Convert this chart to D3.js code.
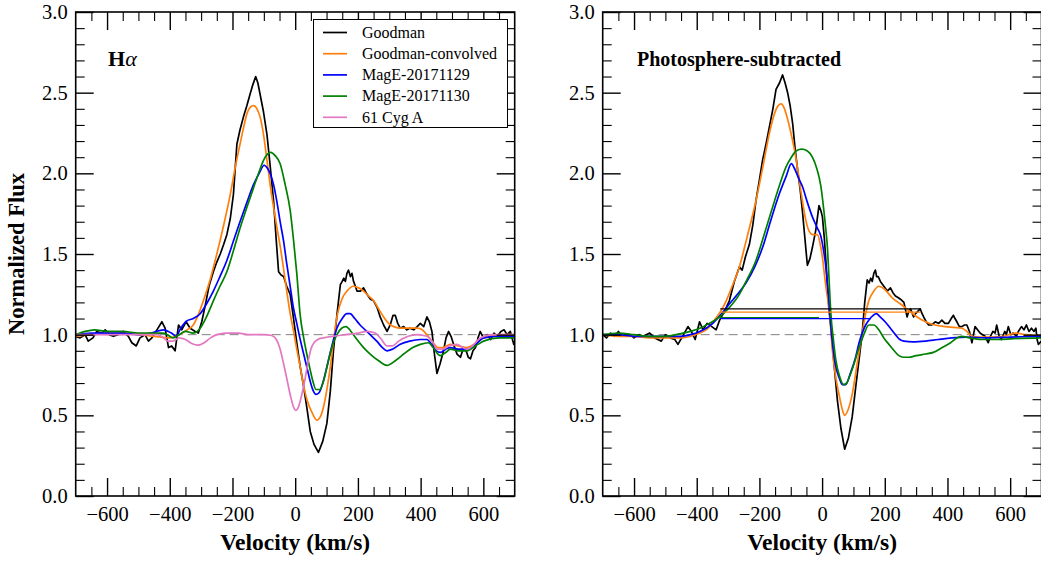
<!DOCTYPE html>
<html>
<head>
<meta charset="utf-8">
<script src="https://cdnjs.cloudflare.com/ajax/libs/d3/7.8.5/d3.min.js"></script>
<style>
    body { margin: 0; background: #fff; }
    svg { display: block; }
</style>
</head>
<body>
<div id="chart"></div>
<script>
"use strict";

// tick labels
var velocityTicks = [-600, -400, -200, 0, 200, 400, 600];
var fluxTicks = [0, 0.5, 1.0, 1.5, 2.0, 2.5, 3.0];

var seriesNames = ["Goodman", "Goodman-convolved", "MagE-20171129", "MagE-20171130", "61 Cyg A"];
var seriesColors = ["#000000", "#ff7f0e", "#0000ff", "#008000", "#e377c2"];

// left panel, [velocity, flux]
var goodmanLeft = [[-702,0.99],[-686,0.98],[-670,1.0],[-660,0.96],[-645,0.98],[-633,1.02],[-617,1.01],[-606,1.03],[-593,1.0],[-580,0.99],[-565,1.0],[-548,1.02],[-532,0.99],[-521,0.95],[-507,0.93],[-495,0.98],[-479,1.0],[-468,0.96],[-457,0.98],[-441,1.03],[-425,1.08],[-415,1.04],[-404,0.92],[-394,0.93],[-383,0.90],[-372,1.06],[-362,1.03],[-348,1.08],[-335,1.04],[-319,1.02],[-309,1.01],[-298,1.08],[-287,1.18],[-275,1.30],[-261,1.39],[-250,1.45],[-239,1.50],[-228,1.56],[-218,1.62],[-207,1.72],[-197,1.87],[-186,2.18],[-176,2.27],[-165,2.35],[-154,2.42],[-144,2.49],[-135,2.55],[-126,2.60],[-119,2.56],[-112,2.49],[-101,2.38],[-90,2.24],[-80,2.05],[-69,1.83],[-61,1.60],[-53,1.39],[-45,1.37],[-37,1.36],[-27,1.30],[-16,1.25],[-6,1.11],[5,0.95],[16,0.80],[26,0.69],[37,0.55],[48,0.40],[60,0.32],[74,0.27],[88,0.34],[101,0.45],[112,0.65],[122,0.90],[133,1.12],[144,1.31],[150,1.33],[155,1.35],[160,1.33],[165,1.38],[170,1.40],[176,1.36],[181,1.38],[186,1.33],[192,1.30],[197,1.27],[208,1.27],[218,1.29],[229,1.25],[240,1.22],[250,1.21],[261,1.17],[271,1.11],[282,1.06],[293,1.02],[303,1.06],[312,1.12],[319,1.12],[327,1.07],[335,1.04],[346,1.05],[356,1.03],[366,1.04],[378,1.03],[389,1.05],[399,1.07],[410,1.05],[420,1.11],[428,1.08],[436,1.02],[444,0.88],[452,0.76],[462,0.82],[473,0.90],[481,0.98],[489,1.02],[497,0.99],[505,0.94],[516,0.88],[527,0.86],[537,0.92],[545,0.90],[552,0.86],[559,0.85],[567,0.90],[575,0.92],[583,0.98],[590,1.02],[600,0.98],[612,1.0],[623,0.97],[634,1.01],[645,0.99],[656,1.02],[666,1.03],[676,1.0],[686,1.02],[697,0.94],[702,0.97]];
var convolvedLeft = [[-700,0.99],[-650,1.0],[-600,1.01],[-550,1.01],[-500,1.0],[-450,0.99],[-400,0.98],[-370,1.0],[-345,1.03],[-325,1.06],[-310,1.12],[-293,1.21],[-270,1.35],[-250,1.50],[-228,1.68],[-207,1.87],[-190,2.05],[-176,2.18],[-165,2.28],[-154,2.37],[-143,2.41],[-133,2.42],[-122,2.40],[-112,2.35],[-101,2.24],[-90,2.08],[-80,1.93],[-69,1.79],[-58,1.66],[-48,1.55],[-38,1.42],[-27,1.27],[-16,1.13],[-5,1.02],[5,0.91],[16,0.80],[26,0.69],[37,0.60],[53,0.52],[69,0.47],[80,0.49],[90,0.55],[101,0.66],[112,0.80],[122,0.96],[133,1.11],[149,1.22],[165,1.27],[186,1.30],[202,1.29],[218,1.27],[234,1.24],[250,1.21],[266,1.16],[282,1.11],[298,1.07],[314,1.05],[340,1.04],[365,1.04],[389,1.04],[405,1.03],[420,1.00],[440,0.95],[455,0.92],[470,0.92],[495,0.94],[520,0.93],[548,0.92],[570,0.94],[590,0.97],[620,0.99],[660,1.0],[700,1.0]];
var mage29Left = [[-700,1.0],[-650,1.01],[-600,1.01],[-550,1.01],[-500,1.0],[-460,1.01],[-420,1.03],[-395,1.01],[-380,0.99],[-365,1.04],[-346,1.085],[-325,1.10],[-303,1.13],[-283,1.19],[-261,1.27],[-240,1.36],[-218,1.46],[-197,1.58],[-176,1.70],[-154,1.82],[-133,1.93],[-115,2.0],[-99,2.05],[-88,2.03],[-78,1.99],[-69,1.93],[-58,1.82],[-48,1.70],[-37,1.58],[-27,1.44],[-16,1.30],[-6,1.17],[5,1.07],[16,0.97],[27,0.88],[37,0.80],[48,0.71],[58,0.65],[66,0.63],[76,0.64],[88,0.70],[101,0.80],[117,0.93],[133,1.04],[150,1.10],[165,1.13],[175,1.13],[190,1.10],[207,1.06],[223,1.03],[239,1.0],[260,0.96],[278,0.92],[293,0.90],[310,0.91],[335,0.94],[365,0.96],[399,0.97],[420,0.97],[435,0.94],[450,0.90],[463,0.89],[480,0.91],[495,0.92],[520,0.91],[548,0.91],[575,0.94],[601,0.98],[640,0.99],[700,0.99]];
var mage30Left = [[-700,1.0],[-670,1.02],[-640,1.03],[-600,1.02],[-550,1.02],[-500,1.01],[-460,1.01],[-420,1.01],[-400,0.99],[-389,0.98],[-370,1.0],[-350,1.02],[-325,1.01],[-303,1.04],[-283,1.11],[-261,1.21],[-240,1.30],[-218,1.39],[-197,1.52],[-176,1.66],[-154,1.79],[-133,1.91],[-115,2.01],[-101,2.08],[-88,2.12],[-78,2.13],[-64,2.11],[-48,2.06],[-32,1.93],[-16,1.77],[-5,1.58],[5,1.38],[16,1.12],[27,0.98],[37,0.88],[48,0.78],[58,0.70],[66,0.66],[78,0.66],[90,0.71],[106,0.84],[120,0.94],[133,1.00],[148,1.04],[162,1.05],[178,1.02],[197,0.97],[218,0.92],[239,0.88],[265,0.84],[293,0.81],[320,0.84],[346,0.88],[375,0.92],[399,0.94],[425,0.95],[440,0.92],[455,0.88],[463,0.87],[480,0.89],[495,0.91],[520,0.90],[548,0.90],[575,0.93],[601,0.96],[650,0.98],[700,0.98]];
var cygLeft = [[-700,1.0],[-600,1.0],[-500,1.0],[-440,1.0],[-420,0.98],[-405,0.96],[-390,0.96],[-370,0.98],[-350,0.97],[-330,0.945],[-310,0.935],[-290,0.95],[-270,0.98],[-250,1.0],[-220,1.01],[-180,1.01],[-150,1.0],[-100,1.0],[-75,0.995],[-60,0.97],[-48,0.91],[-37,0.82],[-27,0.73],[-15,0.62],[-5,0.55],[2,0.53],[10,0.55],[20,0.62],[30,0.71],[40,0.82],[50,0.91],[60,0.95],[72,0.97],[90,0.98],[122,0.99],[160,1.0],[200,1.01],[229,1.02],[255,1.01],[275,0.97],[293,0.93],[310,0.93],[330,0.96],[360,0.99],[389,1.0],[420,0.99],[440,0.95],[452,0.91],[470,0.91],[490,0.93],[516,0.94],[535,0.92],[548,0.91],[565,0.93],[590,0.98],[630,1.0],[700,1.0]];

// right panel (photosphere-subtracted), [velocity, flux]
var goodmanRight = [[-700,1.0],[-688,0.98],[-675,1.01],[-662,0.99],[-650,1.02],[-640,0.99],[-628,1.0],[-613,1.0],[-600,0.98],[-585,1.0],[-570,0.99],[-550,1.01],[-534,0.98],[-513,0.96],[-500,1.0],[-485,0.98],[-470,0.97],[-460,0.94],[-445,0.99],[-428,1.05],[-417,1.02],[-405,0.97],[-391,1.08],[-380,1.03],[-367,1.07],[-352,1.05],[-338,1.03],[-327,1.09],[-310,1.15],[-296,1.21],[-280,1.33],[-264,1.42],[-255,1.40],[-245,1.48],[-232,1.56],[-221,1.68],[-211,1.83],[-200,1.96],[-190,2.08],[-179,2.18],[-168,2.29],[-157,2.40],[-147,2.52],[-136,2.56],[-126,2.61],[-118,2.56],[-110,2.50],[-102,2.42],[-94,2.31],[-86,2.15],[-78,2.02],[-70,1.90],[-63,1.77],[-55,1.60],[-47,1.43],[-39,1.47],[-31,1.54],[-20,1.65],[-10,1.80],[-4,1.77],[1,1.73],[7,1.60],[12,1.46],[17,1.30],[22,1.15],[28,1.05],[38,0.82],[49,0.59],[60,0.42],[72,0.29],[84,0.36],[96,0.49],[110,0.72],[120,0.88],[128,1.01],[136,1.20],[144,1.34],[150,1.32],[155,1.35],[160,1.33],[165,1.38],[170,1.40],[174,1.36],[179,1.36],[186,1.33],[197,1.30],[208,1.27],[218,1.29],[226,1.26],[234,1.24],[242,1.23],[250,1.22],[261,1.20],[271,1.11],[276,1.14],[282,1.16],[292,1.11],[298,1.13],[303,1.14],[313,1.16],[319,1.13],[324,1.11],[332,1.08],[340,1.06],[350,1.06],[361,1.08],[372,1.07],[382,1.09],[392,1.07],[403,1.07],[412,1.10],[419,1.12],[424,1.10],[430,1.08],[438,1.05],[446,1.05],[454,1.06],[462,1.06],[470,1.02],[478,0.95],[483,1.0],[488,1.05],[496,1.03],[504,1.01],[512,1.0],[520,0.99],[525,0.97],[530,0.95],[537,0.99],[545,1.02],[552,1.01],[557,1.06],[565,0.99],[572,0.97],[583,1.02],[588,1.0],[594,1.05],[602,1.0],[610,1.01],[620,0.99],[626,1.02],[636,1.05],[644,1.03],[652,1.06],[660,1.02],[668,1.04],[676,1.02],[682,1.04],[686,0.97],[690,0.94],[700,0.96]];
var convolvedRight = [[-700,1.0],[-650,0.99],[-600,0.99],[-550,0.98],[-500,0.98],[-450,0.98],[-420,0.99],[-390,1.01],[-370,1.03],[-359,1.05],[-340,1.10],[-322,1.15],[-306,1.21],[-285,1.31],[-264,1.42],[-240,1.60],[-211,1.83],[-190,2.03],[-168,2.25],[-152,2.37],[-140,2.42],[-131,2.43],[-120,2.40],[-108,2.32],[-96,2.22],[-84,2.10],[-73,1.96],[-63,1.83],[-52,1.71],[-41,1.64],[-30,1.62],[-15,1.62],[-5,1.55],[1,1.48],[7,1.38],[14,1.27],[22,1.17],[33,0.90],[44,0.73],[54,0.63],[64,0.54],[72,0.50],[82,0.53],[96,0.63],[112,0.82],[128,1.01],[139,1.13],[149,1.21],[165,1.27],[181,1.30],[200,1.28],[223,1.23],[250,1.19],[276,1.15],[303,1.11],[330,1.08],[360,1.06],[393,1.05],[420,1.045],[446,1.04],[462,1.02],[477,0.99],[500,0.985],[540,0.985],[580,0.99],[615,1.01],[650,1.0],[700,0.99]];
var mage29Right = [[-700,1.0],[-650,1.0],[-600,0.99],[-550,0.99],[-500,0.99],[-450,0.99],[-420,1.0],[-390,1.02],[-370,1.04],[-349,1.07],[-325,1.12],[-296,1.19],[-270,1.25],[-243,1.32],[-215,1.42],[-190,1.54],[-165,1.70],[-137,1.87],[-115,1.98],[-98,2.06],[-88,2.03],[-75,1.97],[-63,1.92],[-47,1.82],[-31,1.73],[-15,1.66],[-4,1.61],[5,1.52],[12,1.42],[20,1.25],[28,1.05],[36,0.90],[44,0.80],[55,0.73],[65,0.69],[75,0.69],[90,0.76],[107,0.86],[118,0.95],[128,1.01],[139,1.06],[149,1.09],[163,1.12],[173,1.13],[185,1.11],[201,1.08],[218,1.04],[234,1.00],[248,0.97],[261,0.96],[290,0.955],[330,0.96],[370,0.97],[414,0.98],[460,0.985],[520,0.98],[600,0.985],[700,0.99]];
var mage30Right = [[-700,1.0],[-650,1.01],[-600,1.0],[-550,0.99],[-500,0.99],[-454,1.005],[-420,1.02],[-390,1.04],[-360,1.07],[-327,1.11],[-295,1.17],[-264,1.25],[-240,1.34],[-211,1.46],[-185,1.62],[-158,1.79],[-137,1.92],[-115,2.04],[-98,2.10],[-82,2.14],[-65,2.15],[-48,2.14],[-31,2.10],[-17,2.03],[-4,1.92],[5,1.78],[12,1.65],[17,1.54],[22,1.35],[28,1.13],[36,0.97],[44,0.84],[56,0.74],[68,0.69],[78,0.70],[95,0.78],[118,0.92],[133,1.00],[149,1.06],[165,1.06],[181,1.03],[197,0.98],[213,0.94],[230,0.90],[245,0.87],[260,0.86],[276,0.86],[300,0.87],[330,0.88],[355,0.89],[383,0.92],[410,0.95],[430,0.98],[446,0.99],[470,0.98],[510,0.97],[560,0.97],[610,0.975],[700,0.98]];

// horizontal levels in right panel: [from, to, flux] for black, orange, green, blue
var levelSeries = [0, 1, 3, 2];
var levelRanges = [[-325, 314, 1.16], [-325, 314, 1.14], [-325, -10, 1.105], [-325, 155, 1.10]];

var width = 1041, height = 561;
var plotTop = 12, plotBottom = 496;
var serif = "'Liberation Serif', 'Times New Roman', serif";

var svg = d3.select("#chart").append("svg")
    .attr("width", width)
    .attr("height", height)
    .attr("font-family", serif);

function drawPanel(id, x0, x1, series) {
    var xScale = d3.scaleLinear().domain([-700, 700]).range([x0, x1]);
    var yScale = d3.scaleLinear().domain([0, 3]).range([plotBottom, plotTop]);
    var g = svg.append("g").attr("id", id);

    g.append("clipPath").attr("id", id + "-clip")
        .append("rect")
        .attr("x", x0).attr("y", plotTop)
        .attr("width", x1 - x0).attr("height", plotBottom - plotTop);

    var plot = g.append("g").attr("clip-path", "url(#" + id + "-clip)");

    plot.append("line")
        .attr("x1", x0).attr("x2", x1)
        .attr("y1", yScale(1)).attr("y2", yScale(1))
        .attr("stroke", "#808080")
        .attr("stroke-width", 1)
        .attr("stroke-dasharray", "9,5");

    series.forEach(function (s, i) {
        var line = d3.line()
            .x(function (d) { return xScale(d[0]); })
            .y(function (d) { return yScale(d[1]); })
            .curve(i === 0 ? d3.curveLinear : d3.curveMonotoneX);
        plot.append("path")
            .datum(s)
            .attr("d", line)
            .attr("fill", "none")
            .attr("stroke", seriesColors[i])
            .attr("stroke-width", 1.7)
            .attr("stroke-linejoin", "round");
    });

    // ticks, all pointing inwards
    var minorX = d3.range(-650, 700, 50).filter(function (v) { return v % 200 !== 0; });
    var minorY = d3.range(1, 30).map(function (v) { return v / 10; })
        .filter(function (v) { return Math.abs(v * 2 - Math.round(v * 2)) > 1e-6; });

    function addAxis(axis, tx, ty, values, size, labels) {
        var a = g.append("g")
            .attr("transform", "translate(" + tx + "," + ty + ")")
            .call(axis.tickValues(values).tickSize(-size).tickSizeOuter(0))
            .attr("font-family", serif)
            .attr("font-size", 20.5);
        a.select(".domain").remove();
        a.selectAll(".tick line").attr("stroke", "#000").attr("stroke-width", size > 10 ? 1.4 : 1.1);
        a.selectAll("text").attr("fill", "#000");
        if (!labels) a.selectAll("text").remove();
        return a;
    }

    addAxis(d3.axisBottom(xScale).tickFormat(d3.format("d")).tickPadding(10), 0, plotBottom, velocityTicks, 18, true);
    addAxis(d3.axisBottom(xScale), 0, plotBottom, minorX, 9, false);
    addAxis(d3.axisTop(xScale), 0, plotTop, velocityTicks, 18, false);
    addAxis(d3.axisTop(xScale), 0, plotTop, minorX, 9, false);
    addAxis(d3.axisLeft(yScale).tickFormat(d3.format(".1f")).tickPadding(8), x0, 0, fluxTicks, 18, true);
    addAxis(d3.axisLeft(yScale), x0, 0, minorY, 9, false);
    addAxis(d3.axisRight(yScale), x1, 0, fluxTicks, 18, false);
    addAxis(d3.axisRight(yScale), x1, 0, minorY, 9, false);

    g.append("rect")
        .attr("x", x0).attr("y", plotTop)
        .attr("width", x1 - x0).attr("height", plotBottom - plotTop)
        .attr("fill", "none")
        .attr("stroke", "#000")
        .attr("stroke-width", 1.6);

    g.append("text")
        .attr("x", (x0 + x1) / 2)
        .attr("y", 550)
        .attr("text-anchor", "middle")
        .attr("font-size", 23.5)
        .attr("font-weight", "bold")
        .text("Velocity (km/s)");

    return { g: g, plot: plot, x: xScale, y: yScale };
}

var leftPanel = drawPanel("left", 75.7, 514.7, [goodmanLeft, convolvedLeft, mage29Left, mage30Left, cygLeft]);
var rightPanel = drawPanel("right", 602.7, 1041.5, [goodmanRight, convolvedRight, mage29Right, mage30Right]);

// level lines on the subtracted panel
rightPanel.plot.selectAll(".level")
    .data(levelRanges)
    .enter()
    .append("line")
    .attr("class", "level")
    .attr("x1", function (d) { return rightPanel.x(d[0]); })
    .attr("x2", function (d) { return rightPanel.x(d[1]); })
    .attr("y1", function (d) { return rightPanel.y(d[2]); })
    .attr("y2", function (d) { return rightPanel.y(d[2]); })
    .attr("stroke", function (d, i) { return seriesColors[levelSeries[i]]; })
    .attr("stroke-width", 1.3);

svg.append("text")
    .attr("transform", "translate(24," + ((plotTop + plotBottom) / 2) + ") rotate(-90)")
    .attr("text-anchor", "middle")
    .attr("font-size", 22.5)
    .attr("font-weight", "bold")
    .text("Normalized Flux");

var ha = leftPanel.g.append("text")
    .attr("x", 108)
    .attr("y", 66)
    .attr("font-size", 22);
ha.append("tspan").attr("font-weight", "bold").text("H");
ha.append("tspan").attr("font-style", "italic").text("α");

rightPanel.g.append("text")
    .attr("x", 637)
    .attr("y", 66)
    .attr("font-size", 20)
    .attr("font-weight", "bold")
    .text("Photosphere-subtracted");

// legend
var legend = leftPanel.g.append("g").attr("class", "legend");
legend.append("rect")
    .attr("x", 313.5).attr("y", 19.5)
    .attr("width", 194).attr("height", 108)
    .attr("fill", "#fff")
    .attr("stroke", "#000")
    .attr("stroke-width", 1);
var rows = legend.selectAll(".row")
    .data(seriesNames)
    .enter()
    .append("g")
    .attr("class", "row")
    .attr("transform", function (d, i) { return "translate(0," + (32.5 + i * 21.2) + ")"; });
rows.append("line")
    .attr("x1", 323).attr("x2", 347)
    .attr("stroke", function (d, i) { return seriesColors[i]; })
    .attr("stroke-width", 1.7);
rows.append("text")
    .attr("x", 362)
    .attr("dy", "0.33em")
    .attr("font-size", 16)
    .text(function (d) { return d; });
</script>
</body>
</html>
